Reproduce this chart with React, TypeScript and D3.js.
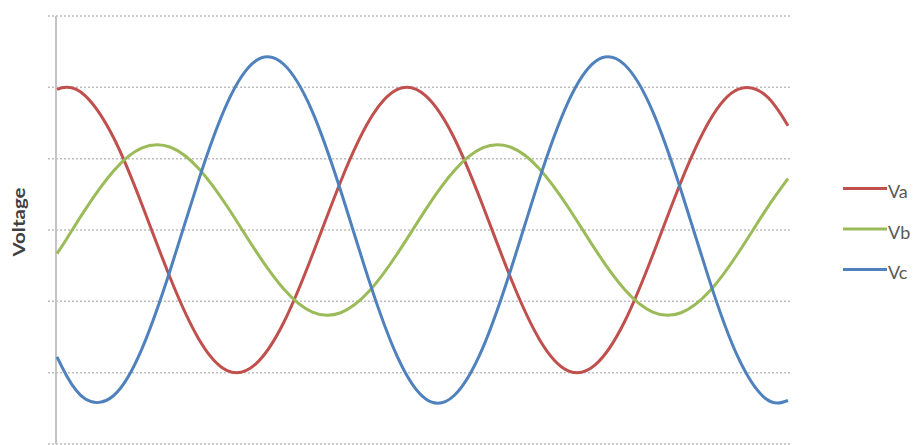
import React from 'react'
import { scaleLinear, line, curveNatural } from 'd3'

// phase angle (degrees) of each sample
const angles = [0, 10, 30, 60, 90, 120, 150, 180, 210, 240, 270, 300, 330, 360,
  390, 420, 450, 480, 510, 540, 570, 600, 630, 660, 690, 720, 750, 773]

const va = [1.97, 2.0, 1.88, 1.29, 0.35, -0.68, -1.53, -1.97, -1.88, -1.29, -0.35, 0.68, 1.53, 1.97,
  1.88, 1.29, 0.35, -0.68, -1.53, -1.97, -1.88, -1.29, -0.35, 0.68, 1.53, 1.97, 1.88, 1.46]
const vb = [-0.33, -0.13, 0.29, 0.83, 1.15, 1.16, 0.86, 0.33, -0.29, -0.83, -1.15, -1.16, -0.86, -0.33,
  0.29, 0.83, 1.15, 1.16, 0.86, 0.33, -0.29, -0.83, -1.15, -1.16, -0.86, -0.33, 0.29, 0.72]
const vc = [-1.78, -2.04, -2.37, -2.32, -1.66, -0.55, 0.71, 1.78, 2.37, 2.32, 1.66, 0.55, -0.71, -1.78,
  -2.37, -2.32, -1.66, -0.55, 0.71, 1.78, 2.37, 2.32, 1.66, 0.55, -0.71, -1.78, -2.37, -2.39]

const seriesNames = ['Va', 'Vb', 'Vc']
const seriesColors = ['#C0504D', '#9BBB59', '#4F81BD']
const gridValues = [3, 2, 1, 0, -1, -2, -3]

export default function App() {
  const width = 917
  const height = 445
  const margin = { top: 16, right: 129, bottom: 1, left: 57 }
  const innerWidth = width - margin.left - margin.right
  const innerHeight = height - margin.top - margin.bottom

  const xScale = scaleLinear().domain([0, 773]).range([0, innerWidth])
  const yScale = scaleLinear().domain([-3, 3]).range([innerHeight, 0])

  const lineGen = line<number>()
    .x((d, i) => xScale(angles[i]))
    .y(d => yScale(d))
    .curve(curveNatural)

  const series = [va, vb, vc]

  return (
    <svg width={width} height={height} style={{ position: 'absolute', left: 0, top: 0, background: '#fff' }}>
      <g transform={`translate(${margin.left},${margin.top})`}>
        {gridValues.map(v => (
          <line key={v} x1={-9} x2={innerWidth + 2} y1={yScale(v)} y2={yScale(v)}
            stroke="#bdbdbd" strokeWidth={1.5} strokeDasharray="2,2" />
        ))}
        <line x1={-1} x2={-1} y1={0} y2={innerHeight} stroke="#c4c4c4" strokeWidth={2} />
        {series.map((s, i) => (
          <path key={i} d={lineGen(s) || ''} fill="none" stroke={seriesColors[i]} strokeWidth={3} />
        ))}
      </g>
      <text transform="translate(25,222) rotate(-90)" textAnchor="middle" fontFamily="Lato, 'Open Sans', sans-serif"
        fontWeight="bold" fontSize={17} textLength={69} lengthAdjust="spacingAndGlyphs" fill="#404040">Voltage</text>
      {seriesNames.map((n, i) => (
        <g key={n} transform={`translate(843,${188.5 + i * 40.5})`}>
          <line x1={0} x2={44} y1={0} y2={0} stroke={seriesColors[i]} strokeWidth={3} />
          <text x={45} y={9.5} fontFamily="Lato, 'Open Sans', sans-serif" fontSize={18} fill="#595959">{n}</text>
        </g>
      ))}
    </svg>
  )
}
